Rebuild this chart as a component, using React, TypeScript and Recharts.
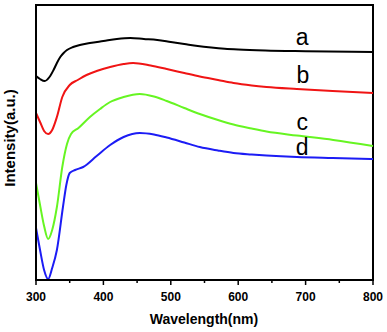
import React from 'react';
import { LineChart, Line, XAxis, YAxis, ReferenceArea, ReferenceDot } from 'recharts';

// Wavelength (nm) and intensity (a.u., offset traces) for each curve
const aWl = [300, 306, 313, 320, 326, 331, 336, 341, 346, 355, 365, 380, 400, 420, 440, 460, 480, 500, 520, 540, 560, 580, 600, 640, 700, 800];
const aVal = [204, 201, 199, 203, 210, 217, 223, 227, 230, 233, 235, 237, 239, 241, 242, 241, 240, 238, 236, 234, 232.5, 231.3, 230.5, 229.5, 228.8, 228];

const bWl = [300, 306, 312, 318, 324, 331, 339, 350, 362, 375, 390, 410, 430, 444, 470, 494, 520, 543, 570, 593, 620, 642, 687, 740, 800];
const bVal = [167, 158, 149, 146, 150, 163, 183, 195, 200, 205, 209, 213, 216, 217, 214.5, 211, 207, 203.5, 200, 197, 194.5, 193, 191, 189, 187];

const cWl = [300, 306, 312, 318, 324, 331, 339, 346, 352, 363, 380, 395, 410, 430, 454, 475, 494, 520, 543, 570, 593, 620, 642, 687, 741, 800];
const cVal = [97, 75, 54, 41, 50, 73, 113, 136, 146, 152, 163, 171, 178, 183, 186, 183.5, 179, 172, 166, 160, 155.5, 151.5, 148.5, 144.5, 140, 134];

const dWl = [300, 306, 312, 318, 324, 331, 340, 345, 350, 358, 370, 390, 410, 430, 454, 475, 494, 520, 543, 570, 593, 620, 642, 687, 740, 800];
const dVal = [52, 30, 10, 1, 12, 30, 73, 95, 107, 110, 113, 124, 135, 143, 147, 145.5, 142.5, 137.5, 133, 129.5, 127, 125.5, 124.5, 123, 122, 121];

const xTicks = [300, 350, 400, 450, 500, 550, 600, 650, 700, 750, 800];
const curveLetters = ['a', 'b', 'c', 'd'];
const letterPos = [
  { x: 695, y: 235 },
  { x: 696, y: 197 },
  { x: 695, y: 150 },
  { x: 695, y: 125 },
];

const toRows = (wl: number[], v: number[]) => wl.map((w, i) => ({ x: w, y: v[i] }));
const seriesA = toRows(aWl, aVal);
const seriesB = toRows(bWl, bVal);
const seriesC = toRows(cWl, cVal);
const seriesD = toRows(dWl, dVal);

const FONT = '"Liberation Sans", Arial, Helvetica, sans-serif';

const XTick = (props: any) => {
  const { x, y, payload } = props;
  const v = payload.value;
  const major = v % 100 === 0;
  return (
    <g>
      <line x1={x} x2={x} y1={y} y2={y + (major ? 5 : 3)} stroke="#000" strokeWidth={1.5} />
      {major && (
        <text x={x} y={y + 21} textAnchor="middle" fontSize={12} fontWeight="bold" fontFamily={FONT} fill="#000">
          {v}
        </text>
      )}
    </g>
  );
};

const letterLabel = (t: string) => (props: any) => {
  const vb = props.viewBox || {};
  const cx = (vb.x ?? 0) + (vb.width ?? 0) / 2;
  const cy = (vb.y ?? 0) + (vb.height ?? 0) / 2;
  return (
    <text x={cx} y={cy} textAnchor="middle" fontSize={23} fontFamily={FONT} fill="#000">
      {t}
    </text>
  );
};

export default function App() {
  return (
    <div style={{ position: 'absolute', left: 0, top: 0, width: 387, height: 332, background: '#fff' }}>
      <LineChart width={387} height={332} margin={{ top: 5, right: 14, bottom: 0, left: 0 }}>
        <XAxis
          dataKey="x"
          type="number"
          domain={[300, 800]}
          ticks={xTicks}
          interval={0}
          tick={<XTick />}
          tickLine={false}
          tickSize={0}
          tickMargin={0}
          height={52}
          axisLine={{ stroke: '#000', strokeWidth: 2 }}
          allowDuplicatedCategory={false}
          label={{
            content: () => (
              <text x={204} y={324} textAnchor="middle" fontSize={14} fontWeight="bold" fontFamily={FONT} fill="#000">
                Wavelength(nm)
              </text>
            ),
          }}
        />
        <YAxis
          type="number"
          domain={[0, 275]}
          width={36}
          tick={false}
          tickLine={false}
          axisLine={{ stroke: '#000', strokeWidth: 2 }}
          label={{
            content: () => (
              <text
                x={15}
                y={138}
                transform="rotate(-90 15 138)"
                textAnchor="middle"
                fontSize={15}
                fontWeight="bold"
                fontFamily={FONT}
                fill="#000"
              >
                Intensity(a.u.)
              </text>
            ),
          }}
        />
        <ReferenceArea x1={300} x2={800} y1={0} y2={275} fill="none" fillOpacity={0} stroke="#000" strokeWidth={2} ifOverflow="visible" />
        <Line data={seriesA} dataKey="y" type="monotone" stroke="#000000" strokeWidth={2} dot={false} isAnimationActive={false} />
        <Line data={seriesB} dataKey="y" type="monotone" stroke="#f01414" strokeWidth={2} dot={false} isAnimationActive={false} />
        <Line data={seriesC} dataKey="y" type="monotone" stroke="#66f522" strokeWidth={2} dot={false} isAnimationActive={false} />
        <Line data={seriesD} dataKey="y" type="monotone" stroke="#1c1cf5" strokeWidth={2} dot={false} isAnimationActive={false} />
        {curveLetters.map((t, i) => (
          <ReferenceDot
            key={t}
            x={letterPos[i].x}
            y={letterPos[i].y}
            r={1}
            fill="none"
            stroke="none"
            ifOverflow="visible"
            label={letterLabel(t)}
          />
        ))}
      </LineChart>
    </div>
  );
}
